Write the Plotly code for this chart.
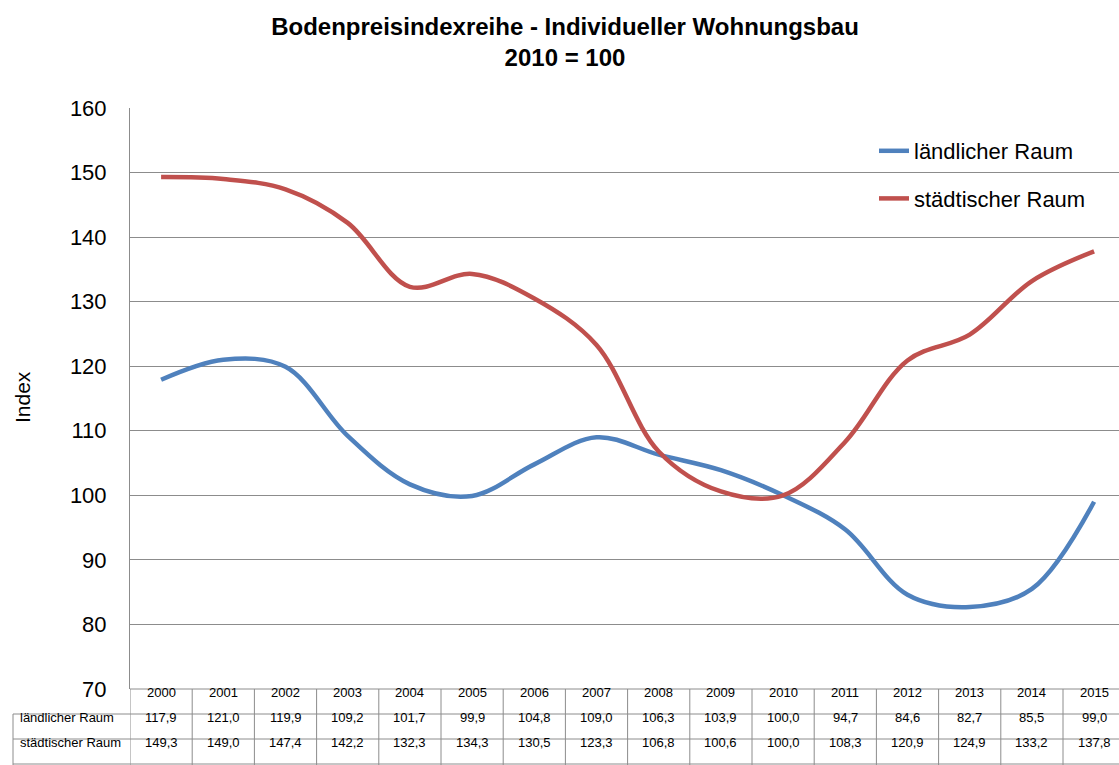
import plotly.graph_objects as go

years = ["2000", "2001", "2002", "2003", "2004", "2005", "2006", "2007",
         "2008", "2009", "2010", "2011", "2012", "2013", "2014", "2015"]
laendlich = [117.9, 121.0, 119.9, 109.2, 101.7, 99.9, 104.8, 109.0,
             106.3, 103.9, 100.0, 94.7, 84.6, 82.7, 85.5, 99.0]
staedtisch = [149.3, 149.0, 147.4, 142.2, 132.3, 134.3, 130.5, 123.3,
              106.8, 100.6, 100.0, 108.3, 120.9, 124.9, 133.2, 137.8]
series_names = ["ländlicher Raum", "städtischer Raum"]
colors = ["#4F81BD", "#C0504D"]

W, H = 1119, 765
ML, MT = 130, 108
plot_bottom_px = 689
row_px = [689, 714, 739, 765]
left_px = 13
col_w = 62.2  # pixel width of one category column
x_end = -0.5 + (W - ML) / col_w  # visible right edge (chart is cropped)

paper_h = H - MT
def py(pix):
    return (H - pix) / paper_h
plot_w = W - ML
def px(pix):
    return (pix - ML) / plot_w

FONT = "Liberation Sans, Arial, sans-serif"

xs = list(range(len(years)))
fig = go.Figure()
for i, (name, vals) in enumerate(zip(series_names, [laendlich, staedtisch])):
    fig.add_trace(go.Scatter(
        x=xs, y=vals, name=name, mode="lines",
        line=dict(color=colors[i], width=4.5, shape="spline", smoothing=1.0),
        legendgroup=f"g{i}", hoverinfo="skip", cliponaxis=False))

shapes = []
grid_col = "#8c8c8c"
shapes.append(dict(type="line", xref="x", yref="paper", x0=-0.5, x1=x_end,
                   y0=py(row_px[0]), y1=py(row_px[0]), line=dict(color=grid_col, width=1)))
for r in row_px[1:]:
    yy = py(r) if r < H else 0.0015
    shapes.append(dict(type="line", xref="paper", yref="paper", x0=px(left_px), x1=1,
                       y0=yy, y1=yy, line=dict(color=grid_col, width=1)))
for k in range(len(years)):
    shapes.append(dict(type="line", xref="x", yref="paper", x0=k - 0.5, x1=k - 0.5,
                       y0=0, y1=py(row_px[0]), line=dict(color=grid_col, width=1)))
shapes.append(dict(type="line", xref="paper", yref="paper", x0=px(left_px), x1=px(left_px),
                   y0=0, y1=py(row_px[1]), line=dict(color=grid_col, width=1)))

annotations = []
tfont = dict(family=FONT, size=13, color="#000")
rows = [laendlich, staedtisch]
for j, y in enumerate(years):
    annotations.append(dict(x=j, y=(py(row_px[0]) + py(row_px[1])) / 2, xref="x", yref="paper",
                            text=y, showarrow=False, font=tfont))
    for r, vals in enumerate(rows):
        yc = (py(row_px[r + 1]) + py(row_px[r + 2])) / 2
        annotations.append(dict(x=j, y=yc, xref="x", yref="paper",
                                text=f"{vals[j]:.1f}".replace(".", ","), showarrow=False, font=tfont))
for r, name in enumerate(series_names):
    yc = (py(row_px[r + 1]) + py(row_px[r + 2])) / 2
    annotations.append(dict(x=px(left_px + 5), y=yc, xref="paper", yref="paper", xanchor="left",
                            text=name, showarrow=False, font=tfont))
annotations.append(dict(x=px(22), y=py(397), xref="paper", yref="paper",
                        xanchor="center", yanchor="middle",
                        text="Index", textangle=-90, showarrow=False,
                        font=dict(family=FONT, size=21, color="#000")))

fig.update_layout(
    template="none",
    width=W, height=H, autosize=False,
    margin=dict(l=ML, r=0, t=MT, b=0, pad=0, autoexpand=False),
    paper_bgcolor="white", plot_bgcolor="white",
    title=dict(text="<b>Bodenpreisindexreihe - Individueller Wohnungsbau<br>2010 = 100</b>",
               x=565 / W, xanchor="center", y=1 - 35 / H, yanchor="middle",
               font=dict(family=FONT, size=24, color="#000")),
    xaxis=dict(range=[-0.5, x_end], showticklabels=False, showgrid=False, automargin=False,
               zeroline=False, showline=False, ticks=""),
    yaxis=dict(range=[70, 160], dtick=10, domain=[py(plot_bottom_px), 1], automargin=False,
               showgrid=True, gridcolor=grid_col, gridwidth=1, zeroline=False,
               showline=True, linecolor=grid_col, linewidth=1, ticks="",
               ticklabelstandoff=18,
               tickfont=dict(family=FONT, size=22, color="#000")),
    legend=dict(x=px(874), y=py(130), xanchor="left", yanchor="top",
                font=dict(family=FONT, size=22, color="#000"),
                bgcolor="rgba(0,0,0,0)", borderwidth=0, tracegroupgap=16),
    shapes=shapes, annotations=annotations,
    showlegend=True,
)
fig.write_html("out.html", config={"displayModeBar": False, "responsive": False},
               post_script="document.body.style.margin='0';document.body.style.overflow='hidden';")
